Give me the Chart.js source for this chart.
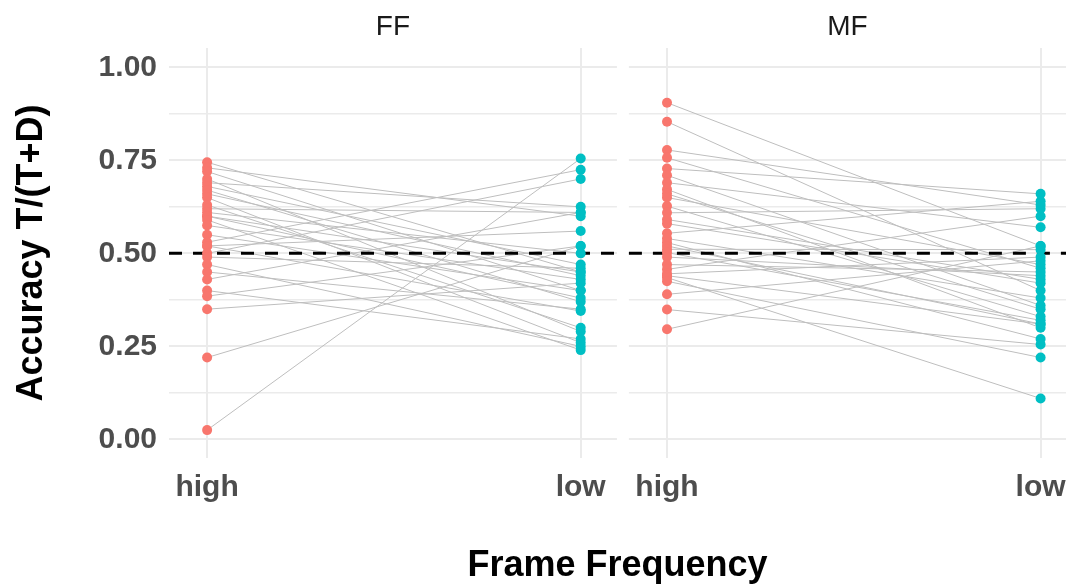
<!DOCTYPE html>
<html>
<head>
<meta charset="utf-8">
<script src="https://cdn.jsdelivr.net/npm/chart.js@4/dist/chart.umd.min.js"></script>
<style>
  html, body { margin: 0; padding: 0; background: #fff; }
</style>
</head>
<body>
<canvas id="chart" width="1066" height="584"></canvas>
<script>
const panels = ['FF', 'MF']
const levels = ['high', 'low']
const yTicks = [0, 0.25, 0.5, 0.75, 1]
const chance = 0.5

// accuracy per subject, paired by index (high -> low)
const ffHigh = [0.745, 0.73, 0.72, 0.70, 0.69, 0.68, 0.67, 0.66, 0.65, 0.63, 0.62, 0.61, 0.60, 0.60, 0.59,
  0.575, 0.55, 0.53, 0.52, 0.52, 0.50, 0.49, 0.47, 0.45, 0.43, 0.40, 0.385, 0.35, 0.22, 0.025]
const ffLow = [0.45, 0.60, 0.40, 0.29, 0.625, 0.47, 0.37, 0.44, 0.26, 0.30, 0.61, 0.50, 0.38, 0.45, 0.24,
  0.43, 0.40, 0.725, 0.56, 0.345, 0.70, 0.46, 0.25, 0.35, 0.61, 0.27, 0.52, 0.42, 0.52, 0.755]
const mfHigh = [0.905, 0.854, 0.778, 0.757, 0.728, 0.71, 0.69, 0.672, 0.66, 0.65, 0.627, 0.609, 0.591, 0.58, 0.554,
  0.54, 0.529, 0.52, 0.511, 0.502, 0.49, 0.47, 0.457, 0.445, 0.44, 0.435, 0.425, 0.39, 0.349, 0.296]
const mfLow = [0.52, 0.40, 0.63, 0.46, 0.66, 0.36, 0.57, 0.30, 0.35, 0.47, 0.33, 0.62, 0.43, 0.42, 0.64,
  0.38, 0.27, 0.31, 0.51, 0.32, 0.44, 0.45, 0.60, 0.49, 0.31, 0.11, 0.22, 0.48, 0.255, 0.52]

const panelData = [
  { high: ffHigh, low: ffLow },
  { high: mfHigh, low: mfLow },
]

// x layout: each facet puts "high" at start and "low" at start + 1
const panelStart = [1, 2.231]
const panelBounds = [[0.898, 2.097], [2.129, 3.299]]

const redColor = '#F8766D'
const tealColor = '#00BFC4'
const gridColor = '#ebebeb'
const fontFamily = "'Liberation Sans', Arial, sans-serif"

initChart()

function initChart() {
  const ctx = document.getElementById('chart')
  const datasets = []

  panelData.forEach((panel, p) => {
    const start = panelStart[p]
    panel.high.forEach((h, i) => {
      datasets.push({
        type: 'line',
        data: [{ x: start, y: h }, { x: start + 1, y: panel.low[i] }],
        borderColor: '#bebebe',
        borderWidth: 1,
        pointRadius: 0,
        order: 3,
      })
    })
    datasets.push({
      type: 'line',
      data: [{ x: panelBounds[p][0], y: chance }, { x: panelBounds[p][1], y: chance }],
      borderColor: '#000000',
      borderWidth: 3,
      borderDash: [13, 11],
      pointRadius: 0,
      order: 2,
    })
    datasets.push({
      type: 'scatter',
      data: panel.high.map(v => ({ x: start, y: v })),
      backgroundColor: redColor,
      pointRadius: 5,
      borderWidth: 0,
      order: 1,
    })
    datasets.push({
      type: 'scatter',
      data: panel.low.map(v => ({ x: start + 1, y: v })),
      backgroundColor: tealColor,
      pointRadius: 5,
      borderWidth: 0,
      order: 1,
    })
  })

  new Chart(ctx, {
    type: 'scatter',
    data: { datasets },
    options: {
      responsive: false,
      animation: false,
      layout: { autoPadding: false, padding: { top: 48, left: 0, right: 0, bottom: 0 } },
      plugins: {
        legend: { display: false },
        tooltip: { enabled: false },
      },
      scales: {
        x: {
          type: 'linear',
          min: 0.898,
          max: 3.299,
          afterBuildTicks: scale => {
            scale.ticks = []
            panelStart.forEach(s => {
              scale.ticks.push({ value: s }, { value: s + 1 })
            })
          },
          afterFit: scale => {
            scale.height = 126
            scale.paddingLeft = 0
            scale.paddingRight = 0
          },
          border: { display: false },
          grid: { color: gridColor, lineWidth: 2, drawTicks: false },
          ticks: {
            autoSkip: false,
            maxRotation: 0,
            padding: 12,
            color: '#4d4d4d',
            font: { family: fontFamily, size: 30, weight: 'bold' },
            callback: (value, index) => levels[index % 2],
          },
          title: {
            display: true,
            text: 'Frame Frequency',
            color: '#000000',
            padding: { top: 4, bottom: -4 },
            font: { family: fontFamily, size: 36, weight: 'bold' },
          },
        },
        y: {
          min: -0.05,
          max: 1.052,
          afterBuildTicks: scale => {
            scale.ticks = Array.from({ length: 9 }, (_, i) => ({ value: i * 0.125 }))
          },
          afterFit: scale => {
            scale.width = 169
            scale.paddingTop = 0
            scale.paddingBottom = 0
          },
          border: { display: false },
          grid: {
            color: gridColor,
            lineWidth: c => (yTicks.includes(c.tick.value) ? 2 : 1.4),
            drawTicks: false,
          },
          ticks: {
            padding: 12,
            color: '#4d4d4d',
            font: { family: fontFamily, size: 30, weight: 'bold' },
            callback: value => (yTicks.includes(value) ? value.toFixed(2) : ''),
          },
          title: {
            display: true,
            text: 'Accuracy T/(T+D)',
            color: '#000000',
            padding: { top: 10, bottom: 4 },
            font: { family: fontFamily, size: 36, weight: 'bold' },
          },
        },
      },
    },
    plugins: [facetPlugin()],
  })
}

/**
 * Splits the plot area into facets and draws the strip labels
 */
function facetPlugin() {
  return {
    id: 'facets',
    beforeDatasetsDraw(chart) {
      const { ctx, chartArea, scales } = chart
      const gapLeft = scales.x.getPixelForValue(panelBounds[0][1])
      const gapRight = scales.x.getPixelForValue(panelBounds[1][0])
      ctx.save()
      ctx.fillStyle = '#ffffff'
      ctx.fillRect(gapLeft, chartArea.top - 1, gapRight - gapLeft, chartArea.bottom - chartArea.top + 2)
      ctx.restore()
    },
    afterDraw(chart) {
      const { ctx, scales } = chart
      ctx.save()
      ctx.fillStyle = '#1a1a1a'
      ctx.font = `28px ${fontFamily}`
      ctx.textAlign = 'center'
      ctx.textBaseline = 'middle'
      panels.forEach((name, p) => {
        const mid = (panelBounds[p][0] + panelBounds[p][1]) / 2
        ctx.fillText(name, scales.x.getPixelForValue(mid), 27)
      })
      ctx.restore()
    },
  }
}
</script>
</body>
</html>
